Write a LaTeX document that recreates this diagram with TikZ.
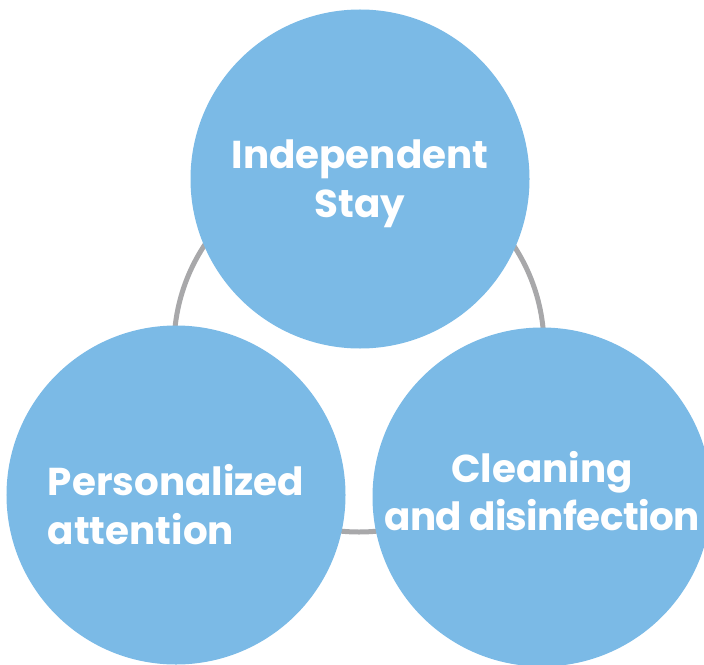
\documentclass[tikz,border=0pt]{standalone}
\usepackage{fontspec}
\setmainfont{Poppins}
\definecolor{bubble}{HTML}{7BBAE6}
\definecolor{ringgray}{HTML}{A8A8AA}
\newcommand\tightwords{\spaceskip=0.18em\relax}
\tikzset{
  bubble/.style={circle, fill=bubble, minimum size=339bp, inner sep=0pt,
    text=white, font=\bfseries\fontsize{39}{49}\selectfont,
    execute at begin node=\tightwords},
}
\begin{document}
\begin{tikzpicture}[x=1bp, y=-1bp]
        \useasboundingbox (0,0) rectangle (704,665);

        % Ring behind the circles
        \coordinate (ring) at (359,347);
        \draw[ringgray, line width=5bp] (ring) circle[radius=185bp];

        % Circles
        \node[bubble, align=center] (stay) at (360,179) {\rule{0pt}{38bp}Independent\\Stay};
        \node[bubble, align=left] (care) at (176,495) {\rule{0pt}{50bp}Personalized\\attention};
        \node[bubble, align=center] (clean) at (542,497) {Cleaning\\\addfontfeatures{LetterSpace=-1.5}and disinfection\rule[-12bp]{0pt}{1bp}};
    \end{tikzpicture}
\end{document}
